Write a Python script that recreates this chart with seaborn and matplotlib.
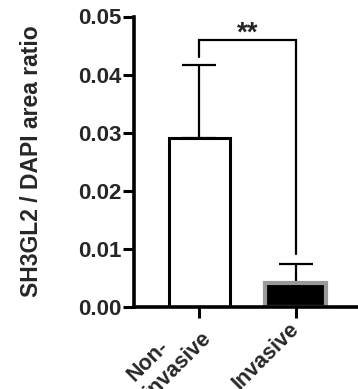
import matplotlib
matplotlib.use("Agg")
import matplotlib.pyplot as plt
import seaborn as sns
import pandas as pd

# values (mean, SEM)
groups = ["Non-\ninvasive", "Invasive"]
means = [0.029, 0.004]
sems = [0.0127, 0.0034]
fill_colors = ["white", "black"]
edge_colors = ["black", "#999999"]
yticks = [0.00, 0.01, 0.02, 0.03, 0.04, 0.05]
sig_label = "**"
bracket_top = 0.046
bracket_feet = [0.043, 0.009]

sns.set_style("ticks")
plt.rcParams["font.family"] = ["Liberation Sans", "DejaVu Sans"]
plt.rcParams["font.weight"] = "bold"

df = pd.DataFrame({"group": groups, "ratio": means})

fig = plt.figure(figsize=(3.58, 3.89), dpi=100)
ax = fig.add_axes([134 / 358, 1 - 306.7 / 389, 224 / 358, 290.2 / 389])

sns.barplot(data=df, x="group", y="ratio", hue="group", palette=fill_colors,
            legend=False, errorbar=None, width=0.63, ax=ax, zorder=2)
for patch, ec, lw in zip(ax.patches, edge_colors, [2.2, 3.0]):
    patch.set_edgecolor(ec)
    patch.set_linewidth(lw)

ax.errorbar([0, 1], means, yerr=[[0, 0], sems], fmt="none", ecolor="black",
            elinewidth=1.6, capsize=12, capthick=1.6, zorder=1)

# significance bracket
ax.plot([0, 0, 1, 1], [bracket_feet[0], bracket_top, bracket_top, bracket_feet[1]],
        color="black", lw=1.6, solid_joinstyle="miter", clip_on=False)
ax.text(0.5, bracket_top - 0.0012, sig_label, ha="center", va="bottom",
        fontsize=20, fontweight="bold")

ax.set_xlim(-0.68, 1.65)
ax.set_ylim(0, 0.05)
ax.set_yticks(yticks)
ax.set_yticklabels([f"{t:.2f}" for t in yticks], fontsize=16, fontweight="bold")
ax.set_xticks([0, 1])
ax.set_xticklabels(groups, fontsize=15.5, fontweight="bold", rotation=45,
                   ha="right", va="center", rotation_mode="anchor",
                   multialignment="left", linespacing=1.15)
ax.tick_params(axis="both", length=8, width=2.2, color="black", pad=1)
ax.tick_params(axis="x", pad=6)
ax.set_xlabel("")
ax.set_ylabel("SH3GL2 / DAPI area ratio", fontsize=16.5, fontweight="bold")
ax.yaxis.set_label_coords(-0.405, 0.5)

sns.despine(ax=ax)
for s in ["left", "bottom"]:
    ax.spines[s].set_linewidth(2.6)
    ax.spines[s].set_color("black")

fig.savefig("out.png", dpi=100)
